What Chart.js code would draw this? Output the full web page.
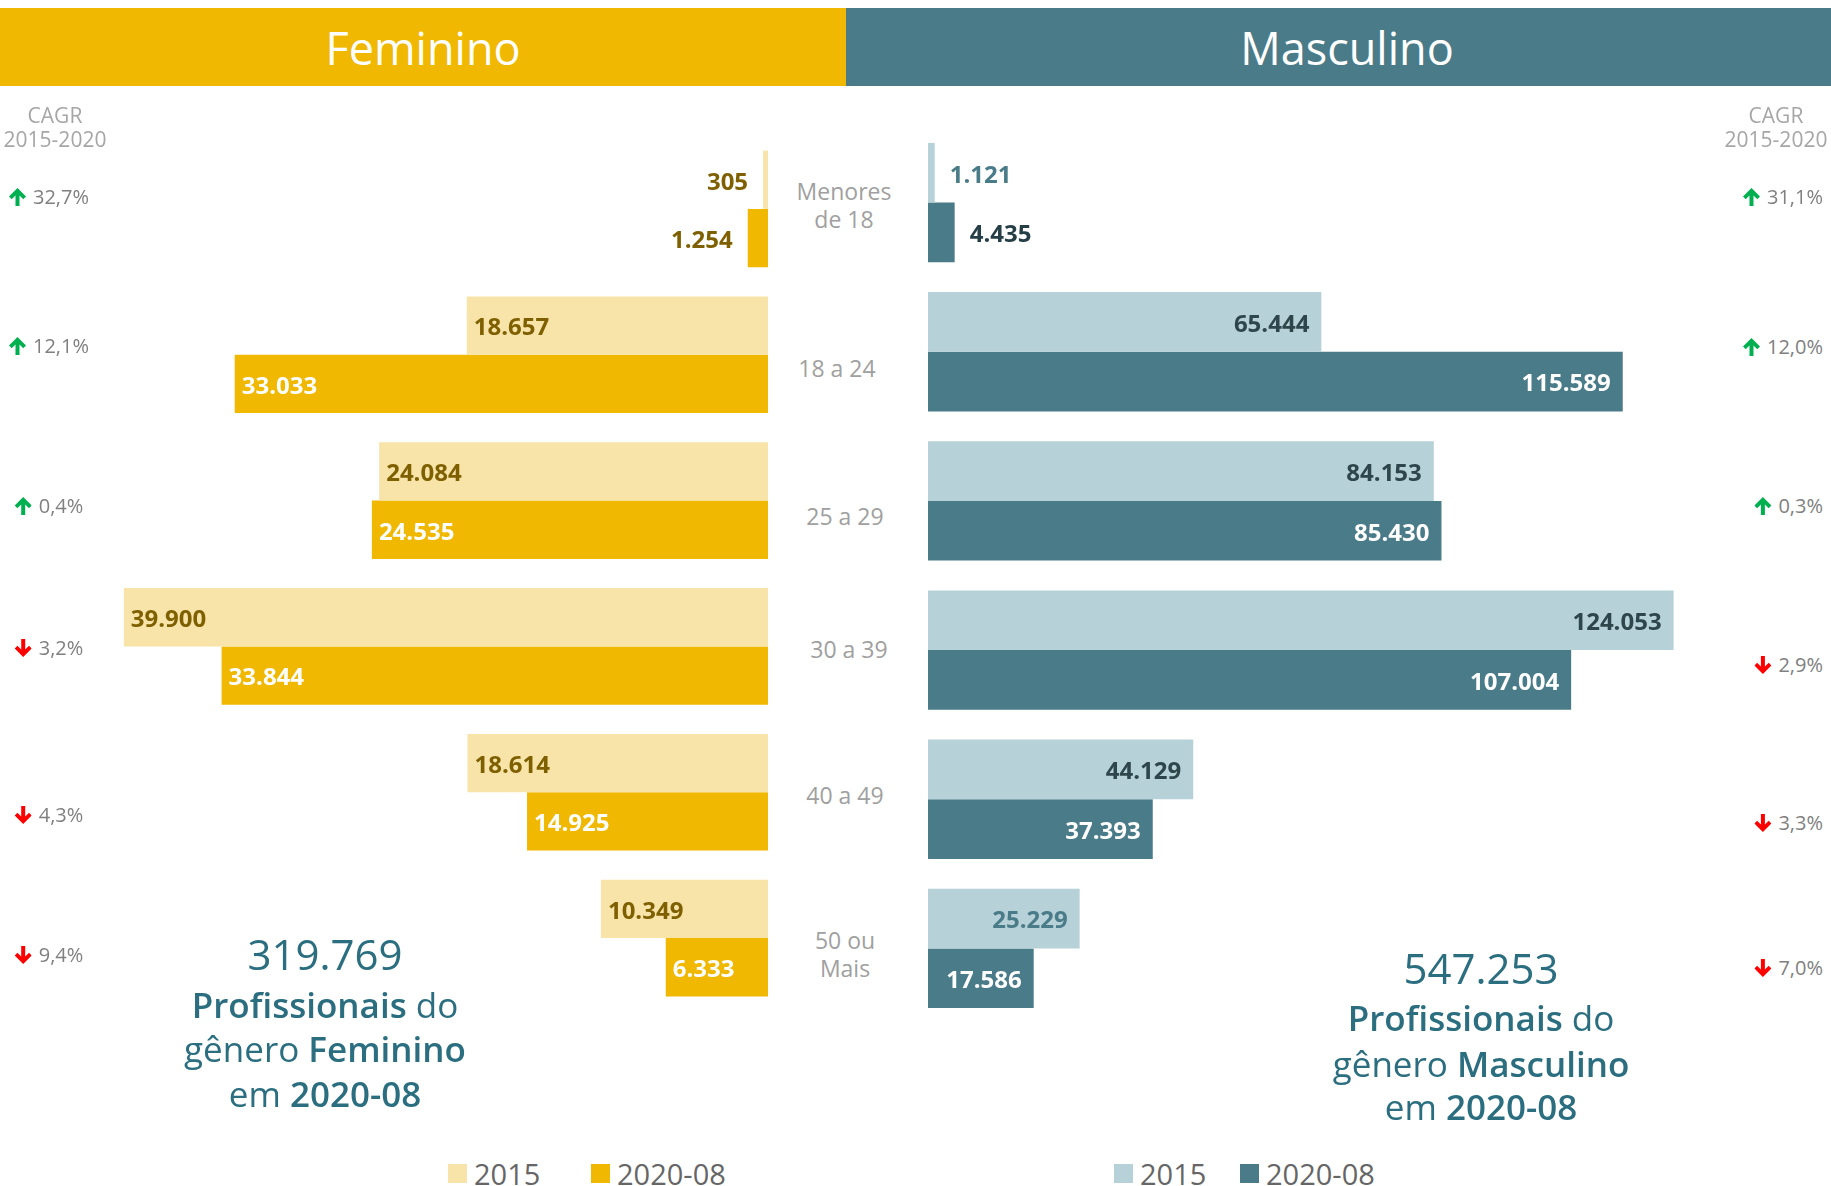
<!DOCTYPE html>
<html>
<head>
<meta charset="utf-8">
<script src="https://cdn.jsdelivr.net/npm/chart.js@4.4.1/dist/chart.umd.min.js"></script>
<style>
    body {
        margin: 0;
        width: 1831px;
        height: 1186px;
        position: relative;
        overflow: hidden;
        background: #fff;
        font-family: "Open Sans", "Noto Sans", sans-serif;
    }
    .band {
        position: absolute;
        top: 8px;
        height: 78px;
        display: flex;
        align-items: center;
        justify-content: center;
        color: #fff;
        font-size: 45px;
    }
    #band-fem { left: 0; width: 846px; background: #F0B800; }
    #band-masc { left: 846px; width: 985px; background: #4A7B89; padding-left: 17px; box-sizing: border-box; }
    canvas { position: absolute; z-index: 1; }
    #femChart { left: 0; top: 136px; }
    #mascChart { left: 928px; top: 128px; }
    .txt { position: absolute; white-space: nowrap; z-index: 2; }
    .cagr-head { color: #A6A6A6; font-size: 21px; line-height: 24px; text-align: center; }
    .cagr { color: #808080; font-size: 20px; line-height: 24px; display: flex; align-items: center; gap: 7px; }
    .cat { color: #A0A0A0; font-size: 23px; line-height: 28px; text-align: center; }
    .total-num { color: #2B6E80; font-size: 42px; line-height: 42px; }
    .total-line { color: #2B6E80; font-size: 35px; line-height: 35px; }
    .total-line b { font-weight: 600; }
    .legend { position: absolute; top: 1164px; height: 19px; display: flex; align-items: center; gap: 7px;
              color: #666; font-size: 29px; line-height: 29px; z-index: 2; }
    .legend i { display: inline-block; width: 19px; height: 19px; }
</style>
</head>
<body>
<div class="band" id="band-fem">Feminino</div>
<div class="band" id="band-masc">Masculino</div>
<canvas id="femChart" width="768" height="875"></canvas>
<canvas id="mascChart" width="800" height="895"></canvas>

<script>
// ---- data ----
const ageGroups = [['Menores', 'de 18'], '18 a 24', '25 a 29', '30 a 39', '40 a 49', ['50 ou', 'Mais']];
const seriesLabels = ['2015', '2020-08'];
const fem2015 = [305, 18657, 24084, 39900, 18614, 10349];
const fem2020 = [1254, 33033, 24535, 33844, 14925, 6333];
const masc2015 = [1121, 65444, 84153, 124053, 44129, 25229];
const masc2020 = [4435, 115589, 85430, 107004, 37393, 17586];
const femCagr = [32.7, 12.1, 0.4, -3.2, -4.3, -9.4];
const mascCagr = [31.1, 12.0, 0.3, -2.9, -3.3, -7.0];
const femTotal = 319769;
const mascTotal = 547253;
const refPeriod = '2020-08';

// ---- colours / layout ----
const COLORS = {
    fem2015: '#F8E4A8', fem2020: '#F0B800',
    masc2015: '#B6D1D8', masc2020: '#4A7B89',
    olive: '#7F6000', slate: '#2E454C', teal: '#4A7B89'
};
// label colour of each light male bar (Power BI picked teal on two of them)
const masc2015LabelColors = [COLORS.teal, COLORS.slate, COLORS.slate, COLORS.slate, COLORS.slate, COLORS.teal];
const cagrRowY = { fem: [197, 346, 506, 648, 815, 955], masc: [197, 347, 506, 665, 823, 968] };
const catLabelY = [205, 368, 516, 649, 795, 954];
const catLabelX = [844, 837, 845, 849, 845, 845];

const fmtInt = v => String(v).replace(/\B(?=(\d{3})+(?!\d))/g, '.');
const fmtPct = v => Math.abs(v).toFixed(1).replace('.', ',') + '%';

// value labels: inside the far end of the bar, outside when it does not fit
const barLabels = {
    id: 'barLabels',
    afterDatasetsDraw(chart) {
        const ctx = chart.ctx;
        ctx.save();
        ctx.font = 'bold 24px "Open Sans", "Noto Sans", sans-serif';
        ctx.textBaseline = 'middle';
        chart.data.datasets.forEach((ds, di) => {
            chart.getDatasetMeta(di).data.forEach((bar, i) => {
                const text = fmtInt(ds.data[i]);
                const w = ctx.measureText(text).width;
                const len = Math.abs(bar.x - bar.base);
                const dir = bar.x < bar.base ? -1 : 1;
                const padIn = dir < 0 ? 7 : 12;
                const inside = len > w + padIn * 2;
                let x;
                if (inside) {
                    ctx.fillStyle = Array.isArray(ds.labelColor) ? ds.labelColor[i] : ds.labelColor;
                    ctx.textAlign = dir < 0 ? 'left' : 'right';
                    x = bar.x - dir * padIn;
                } else {
                    ctx.fillStyle = Array.isArray(ds.outColor) ? ds.outColor[i] : ds.outColor;
                    ctx.textAlign = dir < 0 ? 'right' : 'left';
                    x = bar.x + dir * 15;
                }
                ctx.fillText(text, x, bar.y + 3);
            });
        });
        ctx.restore();
    }
};

function makeChart(id, datasets, max, reverse) {
    return new Chart(document.getElementById(id), {
        type: 'bar',
        data: { labels: ageGroups, datasets },
        options: {
            indexAxis: 'y',
            responsive: false,
            animation: false,
            events: [],
            layout: { padding: 0 },
            datasets: { bar: { categoryPercentage: 0.8, barPercentage: 1.0, borderWidth: 0 } },
            scales: {
                x: { display: false, min: 0, max: max, reverse: reverse },
                y: { display: false }
            },
            plugins: { legend: { display: false }, tooltip: { enabled: false } }
        },
        plugins: [barLabels]
    });
}

makeChart('femChart', [
    { label: seriesLabels[0], data: fem2015, backgroundColor: COLORS.fem2015, labelColor: COLORS.olive, outColor: COLORS.olive },
    { label: seriesLabels[1], data: fem2020, backgroundColor: COLORS.fem2020, labelColor: '#fff', outColor: COLORS.olive }
], 47570, true);

makeChart('mascChart', [
    { label: seriesLabels[0], data: masc2015, backgroundColor: COLORS.masc2015, labelColor: masc2015LabelColors, outColor: masc2015LabelColors },
    { label: seriesLabels[1], data: masc2020, backgroundColor: COLORS.masc2020, labelColor: '#fff', outColor: '#263F46' }
], 133100, false);

// ---- text around the charts ----
function addText(html, cls, x, y, align) {
    const d = document.createElement('div');
    d.className = 'txt ' + cls;
    d.innerHTML = html;
    d.style.left = x + 'px';
    d.style.top = y + 'px';
    const tx = align === 'right' ? '-100%' : align === 'left' ? '0' : '-50%';
    d.style.transform = 'translate(' + tx + ',-50%)';
    document.body.appendChild(d);
    return d;
}

function arrowSvg(v) {
    const up = v >= 0;
    return '<svg width="17" height="18" viewBox="0 0 17 18"' + (up ? '' : ' style="transform:rotate(180deg)"') + '>' +
        '<path d="M8.5 0 L17 8.6 L14.3 11.2 L10.5 7.4 L10.5 18 L6.5 18 L6.5 7.4 L2.7 11.2 L0 8.6 Z" fill="' +
        (up ? '#00B050' : '#FF0000') + '"/></svg>';
}

addText('CAGR<br>2015-2020', 'cagr-head', 55, 127);
addText('CAGR<br>2015-2020', 'cagr-head', 1776, 127);
femCagr.forEach((v, i) => addText(arrowSvg(v) + '<span>' + fmtPct(v) + '</span>', 'cagr', 49, cagrRowY.fem[i]));
mascCagr.forEach((v, i) => addText(arrowSvg(v) + '<span>' + fmtPct(v) + '</span>', 'cagr', 1823, cagrRowY.masc[i], 'right'));

ageGroups.forEach((g, i) => addText([].concat(g).join('<br>'), 'cat', catLabelX[i], catLabelY[i]));

function totalBlock(total, gender, x, ys) {
    addText(fmtInt(total), 'total-num', x, ys[0]);
    addText('<b>Profissionais</b> do', 'total-line', x, ys[1]);
    addText('gênero <b>' + gender + '</b>', 'total-line', x, ys[2]);
    addText('em <b>' + refPeriod + '</b>', 'total-line', x, ys[3]);
}
totalBlock(femTotal, 'Feminino', 325, [954, 1004, 1048, 1093]);
totalBlock(mascTotal, 'Masculino', 1481, [968, 1017, 1063, 1106]);

function legend(x, colors) {
    seriesLabels.forEach((s, i) => {
        const d = document.createElement('div');
        d.className = 'legend';
        d.style.left = x[i] + 'px';
        d.innerHTML = '<i style="background:' + colors[i] + '"></i><span>' + s + '</span>';
        document.body.appendChild(d);
    });
}
legend([448, 591], [COLORS.fem2015, COLORS.fem2020]);
legend([1114, 1240], [COLORS.masc2015, COLORS.masc2020]);
</script>
</body>
</html>
